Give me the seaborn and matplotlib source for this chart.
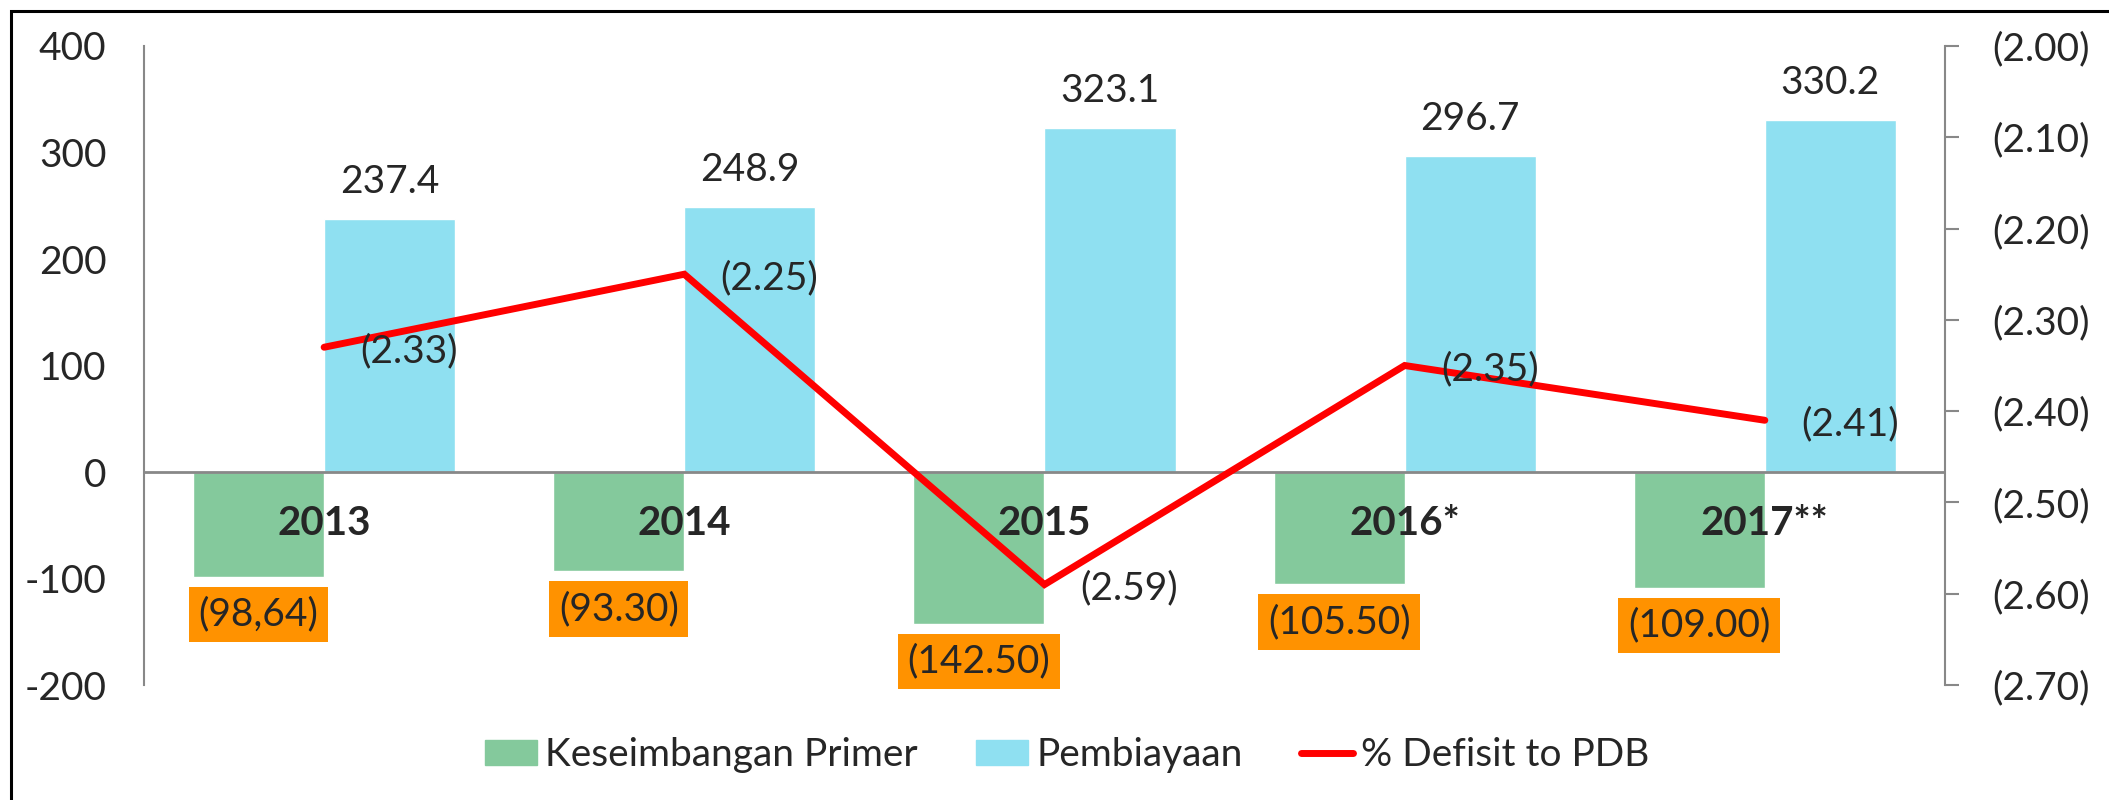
import numpy as np
import pandas as pd
import matplotlib
matplotlib.use("Agg")
import matplotlib.pyplot as plt
from matplotlib.patches import Patch, Rectangle
from matplotlib.lines import Line2D
from matplotlib.ticker import FuncFormatter
import seaborn as sns

years = ["2013", "2014", "2015", "2016*", "2017**"]
keseimbangan = [-98.64, -93.30, -142.50, -105.50, -109.00]
keseimbangan_labels = ["(98,64)", "(93.30)", "(142.50)", "(105.50)", "(109.00)"]
pembiayaan = [237.4, 248.9, 323.1, 296.7, 330.2]
defisit = [-2.33, -2.25, -2.59, -2.35, -2.41]
series_names = ["Keseimbangan Primer", "Pembiayaan", "% Defisit to PDB"]

green = "#84C99C"
blue = "#8FE0F1"
orange = "#FF9200"
red = "#FF0000"
grey = "#888888"

sns.set_style("white")
plt.rcParams["font.family"] = ["Lato", "DejaVu Sans"]
plt.rcParams["axes.unicode_minus"] = False
FS = 28

df = pd.DataFrame({
    "Tahun": years * 2,
    "Nilai": keseimbangan + pembiayaan,
    "Seri": [series_names[0]] * len(years) + [series_names[1]] * len(years),
})

fig = plt.figure(figsize=(21.09, 8), dpi=100)
ax = fig.add_axes([0.0683, 0.14375, 0.8539, 0.79875])

sns.barplot(data=df, x="Tahun", y="Nilai", hue="Seri", palette=[green, blue],
            width=0.728, gap=0, saturation=1, ax=ax, legend=False, zorder=2)
ax.set_xlim(-0.5, len(years) - 0.5)
ax.set_ylim(-200, 400)
ax.set_yticks(np.arange(-200, 401, 100))
ax.set_xlabel("")
ax.set_ylabel("")
ax.tick_params(axis="x", length=0, labelbottom=False)
ax.tick_params(axis="y", length=0, pad=27, labelsize=FS)
for s in ["top", "right", "bottom"]:
    ax.spines[s].set_visible(False)
ax.spines["left"].set_color(grey)
ax.spines["left"].set_linewidth(1.5)
ax.axhline(0, color=grey, lw=2, zorder=3)

# negative labels in orange boxes
for rect, lab in zip(ax.containers[0], keseimbangan_labels):
    x = rect.get_x() + rect.get_width() / 2
    y = rect.get_y() + rect.get_height() if rect.get_height() < 0 else rect.get_y()
    ax.annotate(lab, (x, y), xytext=(0, -27), textcoords="offset points",
                ha="center", va="center", fontsize=FS, zorder=5,
                bbox=dict(boxstyle="square,pad=0.25", fc=orange, ec="none"))

for rect, val in zip(ax.containers[1], pembiayaan):
    x = rect.get_x() + rect.get_width() / 2
    ax.annotate(f"{val:.1f}", (x, rect.get_height()), xytext=(0, 26.6),
                textcoords="offset points", ha="center", va="center",
                fontsize=FS, zorder=5)

for i, yr in enumerate(years):
    ax.text(i, -48, yr, ha="center", va="center", fontsize=FS + 1,
            fontweight="bold", zorder=5)

ax2 = ax.twinx()
sns.lineplot(x=np.arange(len(years)), y=defisit, ax=ax2, color=red, lw=5,
             solid_capstyle="round", solid_joinstyle="miter", zorder=4)
ax2.set_ylim(-2.70, -2.00)
ax2.set_yticks(np.round(np.arange(-2.70, -1.99, 0.1), 2))
ax2.yaxis.set_major_formatter(FuncFormatter(lambda v, p: f"({abs(v):.2f})"))
ax2.tick_params(axis="y", length=10, width=1.5, color=grey, pad=24,
                labelsize=FS, right=True)
for s in ["top", "left", "bottom"]:
    ax2.spines[s].set_visible(False)
ax2.spines["right"].set_color(grey)
ax2.spines["right"].set_linewidth(1.5)
ax.set_xlim(-0.5, len(years) - 0.5)

for i, v in enumerate(defisit):
    ax2.annotate(f"({abs(v):.2f})", (i, v), xytext=(26, -3),
                 textcoords="offset points", ha="left", va="center",
                 fontsize=FS, zorder=6)

handles = [Patch(color=green), Patch(color=blue),
           Line2D([], [], color=red, lw=5, solid_capstyle="round")]
fig.legend(handles, series_names, loc="center", bbox_to_anchor=(0.506, 0.056),
           ncol=3, frameon=False, fontsize=FS, handlelength=1.34,
           handleheight=0.6, handletextpad=0.2, columnspacing=1.5)

fig.add_artist(Rectangle((0.0052, -0.5), 2, 1.4862, transform=fig.transFigure,
                         fill=False, ec="black", lw=2.2))

fig.savefig("out.png", dpi=100)
